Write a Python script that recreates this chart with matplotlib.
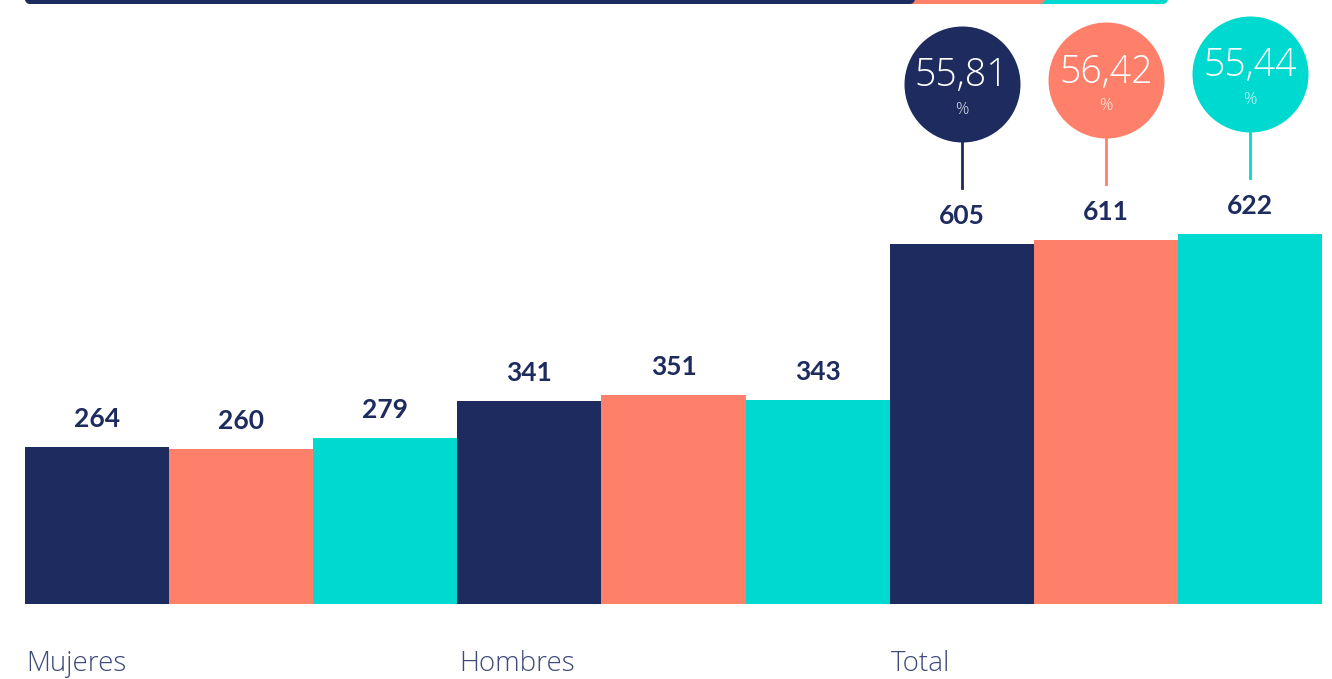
import numpy as np
import matplotlib
matplotlib.use("Agg")
import matplotlib.pyplot as plt
from matplotlib.lines import Line2D

groups = ["Mujeres", "Hombres", "Total"]
series_colors = ["#1d2b5e", "#ff806a", "#00d9cf"]
values = [
    [264, 260, 279],   # Mujeres
    [341, 351, 343],   # Hombres
    [605, 611, 622],   # Total
]
total_pcts = ["55,81", "56,42", "55,44"]

W, H = 1332, 679
fig = plt.figure(figsize=(W / 100, H / 100), dpi=100)
fig.patch.set_facecolor("white")

# axes: baseline at 604 px from top, bars from x=25 to 1322 px
ax = fig.add_axes([25 / W, 75 / H, (1322 - 25) / W, 1 - 75 / H])
px_per_unit = 0.595
ax.set_xlim(0, 9)
ax.set_ylim(0, 604 / px_per_unit)
ax.axis("off")

navy = series_colors[0]
for g, vals in enumerate(values):
    for s, v in enumerate(vals):
        x = g * 3 + s
        ax.bar(x, v, width=1.0, align="edge", color=series_colors[s], linewidth=0)
        ax.text(x + 0.5, v + 28 / px_per_unit, str(v), ha="center", va="center",
                fontsize=19, fontweight="bold", color=navy, family="Lato")
    ax.text(g * 3 + 0.01, -60 / px_per_unit, groups[g], ha="left", va="center",
            fontsize=20, fontweight="light", color="#3d4a7a", family="Open Sans",
            clip_on=False)

# circles above the total bars
r_px = 58
for s, v in enumerate(values[2]):
    x = 6 + s + 0.5
    cy = v + 160 / px_per_unit
    ax.plot([x, x], [v + 56 / px_per_unit, cy - r_px / px_per_unit],
            color=series_colors[s], lw=2, clip_on=False)
    ax.scatter([x], [cy], s=(2 * r_px * 0.72) ** 2, color=series_colors[s],
               linewidths=0, clip_on=False, zorder=3)
    ax.text(x, cy + 8 / px_per_unit, total_pcts[s], ha="center", va="center",
            fontsize=27, fontweight="light", color="white", family="Open Sans",
            zorder=4, clip_on=False)
    ax.text(x, cy - 26 / px_per_unit, "%", ha="center", va="center",
            fontsize=12, fontweight="light", color="white", alpha=0.85,
            family="Open Sans", zorder=4, clip_on=False)

# partial stacked bar cut off at the top edge
for x1, c in [(1163, series_colors[2]), (1040, series_colors[1]), (910, series_colors[0])]:
    fig.add_artist(Line2D([30 / W, x1 / W], [1 + 1 / H, 1 + 1 / H],
                          transform=fig.transFigure, color=c, lw=7.2,
                          solid_capstyle="round"))

fig.savefig("out.png", dpi=100, facecolor="white")
